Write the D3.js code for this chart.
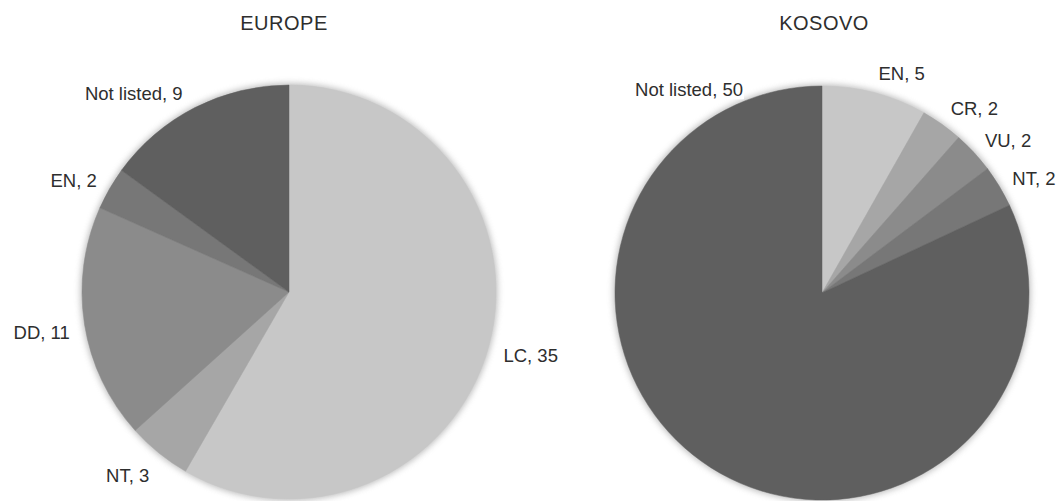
<!DOCTYPE html>
<html>
<head>
<meta charset="utf-8">
<script src="https://cdn.jsdelivr.net/npm/d3@7/dist/d3.min.js"></script>
<style>
  html, body { margin: 0; padding: 0; background: #fff; }
  svg { display: block; }
  text { font-family: "Liberation Sans", Arial, sans-serif; fill: #2e2e2e; }
</style>
</head>
<body>
<svg id="chart" width="1058" height="501"></svg>
<script>
// IUCN status counts, Europe vs Kosovo
const europeCategories = ["LC", "NT", "DD", "EN", "Not listed"];
const europeValues     = [35, 3, 11, 2, 9];
const kosovoCategories = ["EN", "CR", "VU", "NT", "Not listed"];
const kosovoValues     = [5, 2, 2, 2, 50];
const panelTitles      = ["EUROPE", "KOSOVO"];

// grey ramp, lightest for the first slice of each pie
const greys = ["#c7c7c7", "#a6a6a6", "#8b8b8b", "#777777", "#5f5f5f"];

const svg = d3.select("#chart");

const defs = svg.append("defs");
defs.append("filter")
  .attr("id", "softShadow")
  .attr("x", "-20%").attr("y", "-20%").attr("width", "140%").attr("height", "140%")
  .append("feGaussianBlur").attr("stdDeviation", 3.2);

const radius = 207;
const fontSize = "18.5px";

const panels = [
  {
    title: panelTitles[0], titleX: 284, cx: 289, cy: 292,
    cats: europeCategories, vals: europeValues,
    labelPlace: { "Not listed": { angle: -0.5 } }
  },
  {
    title: panelTitles[1], titleX: 824, cx: 822, cy: 293,
    cats: kosovoCategories, vals: kosovoValues,
    // the large slice's label sits up by the top-left of the pie
    labelPlace: { "Not listed": { angle: -0.378, r: radius + 7 } }
  }
];

const pie = d3.pie().sort(null).value(d => d.value);
const arc = d3.arc().innerRadius(0).outerRadius(radius);

panels.forEach(p => {
  const data = p.cats.map((c, i) => ({ cat: c, value: p.vals[i] }));
  const color = d3.scaleOrdinal().domain(p.cats).range(greys);
  const g = svg.append("g").attr("transform", `translate(${p.cx},${p.cy})`);

  // title
  svg.append("text")
    .attr("x", p.titleX).attr("y", 30)
    .attr("text-anchor", "middle")
    .style("font-size", "20px")
    .style("letter-spacing", "0.5px")
    .text(p.title);

  // soft halo under the pie
  g.append("circle")
    .attr("r", radius + 1.5)
    .attr("fill", "#8f8f8f")
    .attr("opacity", 0.6)
    .attr("filter", "url(#softShadow)");

  const arcs = pie(data);

  g.selectAll("path.slice")
    .data(arcs)
    .join("path")
    .attr("class", "slice")
    .attr("d", arc)
    .attr("fill", d => color(d.data.cat))
    .attr("stroke", d => color(d.data.cat))
    .attr("stroke-width", 0.5);

  // labels just outside the rim, each on a white box
  const labelR = radius + 15;
  const lbl = g.selectAll("g.lbl")
    .data(arcs)
    .join("g")
    .attr("class", "lbl");

  lbl.each(function (d) {
    const place = p.labelPlace[d.data.cat] || {};
    const a = place.angle !== undefined ? place.angle : (d.startAngle + d.endAngle) / 2;
    const R = place.r !== undefined ? place.r : labelR;
    const s = Math.sin(a), c = Math.cos(a);
    const x = R * s;
    const y = -R * c;
    const sel = d3.select(this);
    const rect = sel.append("rect").attr("fill", "#fff");
    const t = sel.append("text")
      .style("font-size", fontSize)
      .attr("x", x)
      .attr("y", y + 10.5 - c * 9)
      .attr("text-anchor", s >= 0 ? "start" : "end")
      .text(`${d.data.cat}, ${d.data.value}`);
    const bb = t.node().getBBox();
    rect.attr("x", bb.x - 1).attr("y", bb.y + 1)
      .attr("width", bb.width + 2).attr("height", bb.height - 2);
  });
});
</script>
</body>
</html>
